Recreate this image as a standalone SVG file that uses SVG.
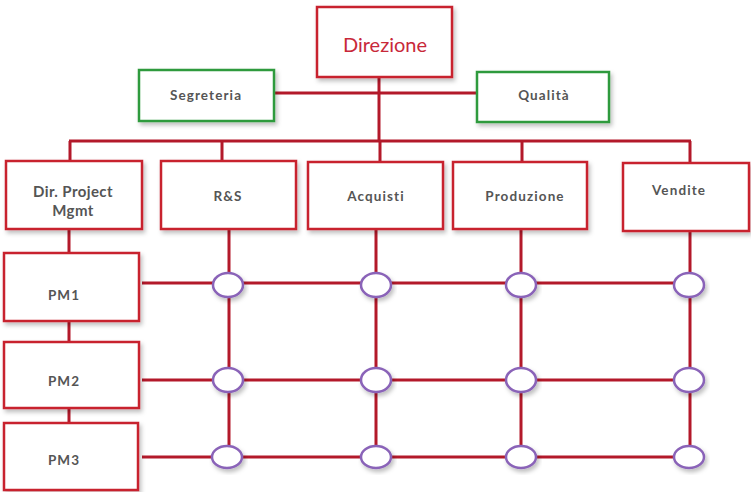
<svg xmlns="http://www.w3.org/2000/svg" width="751" height="492" viewBox="0 0 751 492">
  <defs>
    <filter id="shadow" x="-10%" y="-10%" width="130%" height="140%">
      <feDropShadow dx="2" dy="3" stdDeviation="2" flood-color="#000" flood-opacity="0.25"/>
    </filter>
  </defs>
  <style>
    .box { fill: #fff; stroke: #c8202f; stroke-width: 2.5; filter: url(#shadow); }
    .gbox { fill: #fff; stroke: #2f9a3c; stroke-width: 2.5; filter: url(#shadow); }
    .wire { stroke: #b3192a; stroke-width: 3; fill: none; stroke-linecap: butt; }
    .node { fill: #fff; stroke: #8a63b8; stroke-width: 2.5; filter: url(#shadow); }
    .lbl { font-family: Lato, "Liberation Sans", sans-serif; font-weight: bold; font-size: 13.5px; fill: #555; text-anchor: middle; letter-spacing: 1.1px; }
    .top { font-family: Lato, "Liberation Sans", sans-serif; font-size: 20px; fill: #c8283a; text-anchor: middle; }
  </style>
  <rect width="751" height="492" fill="#fff"/>

  <!-- connectors -->
  <g id="connectors">
    <path class="wire" d="M274 93 H477"/>
    <path class="wire" d="M379 77 V141"/>
    <path class="wire" d="M69 141 H691"/>
    <path class="wire" d="M70 141 V161 M222 141 V161 M380 141 V162 M522 141 V162 M690 141 V163"/>
    <path class="wire" d="M69 229 V253 M69 321 V342 M69 408 V423"/>
    <path class="wire" d="M142 283 H688 M142 380 H688 M142 457 H688"/>
    <path class="wire" d="M229 229 V457 M376 229 V457 M521 229 V457 M690 231 V457"/>
  </g>

  <g id="direzione">
    <rect class="box" x="317" y="7" width="135" height="70"/>
    <text class="top" x="385" y="52">Direzione</text>
  </g>
  <g id="segreteria">
    <rect class="gbox" x="139" y="70" width="135" height="51"/>
    <text class="lbl" x="206" y="100">Segreteria</text>
  </g>
  <g id="qualita">
    <rect class="gbox" x="477" y="72" width="132" height="50"/>
    <text class="lbl" x="544" y="100">Qualità</text>
  </g>

  <g id="dir-project">
    <rect class="box" x="6" y="161" width="136" height="68"/>
    <text class="lbl" x="73" y="197" style="font-size:15px;letter-spacing:0.4px">Dir. Project</text>
    <text class="lbl" x="73" y="216" style="font-size:15px;letter-spacing:0.4px">Mgmt</text>
  </g>
  <g id="rs">
    <rect class="box" x="161" y="161" width="135" height="68"/>
    <text class="lbl" x="228" y="201">R&amp;S</text>
  </g>
  <g id="acquisti">
    <rect class="box" x="308" y="162" width="135" height="67"/>
    <text class="lbl" x="376" y="201">Acquisti</text>
  </g>
  <g id="produzione">
    <rect class="box" x="453" y="162" width="134" height="67"/>
    <text class="lbl" x="525" y="201">Produzione</text>
  </g>
  <g id="vendite">
    <rect class="box" x="623" y="163" width="126" height="68"/>
    <text class="lbl" x="679" y="195">Vendite</text>
  </g>

  <g id="pm1">
    <rect class="box" x="4" y="253" width="135" height="68"/>
    <text class="lbl" x="64" y="300">PM1</text>
  </g>
  <g id="pm2">
    <rect class="box" x="4" y="342" width="135" height="66"/>
    <text class="lbl" x="64" y="386">PM2</text>
  </g>
  <g id="pm3">
    <rect class="box" x="4" y="423" width="134" height="67"/>
    <text class="lbl" x="64" y="465">PM3</text>
  </g>

  <!-- matrix junctions -->
  <g id="junctions">
    <ellipse class="node" cx="228" cy="285" rx="15" ry="12"/>
    <ellipse class="node" cx="376" cy="285" rx="15" ry="12"/>
    <ellipse class="node" cx="521" cy="285" rx="15" ry="12"/>
    <ellipse class="node" cx="689" cy="285" rx="15" ry="12"/>
    <ellipse class="node" cx="228" cy="380" rx="15" ry="12"/>
    <ellipse class="node" cx="376" cy="380" rx="15" ry="12"/>
    <ellipse class="node" cx="521" cy="380" rx="15" ry="12"/>
    <ellipse class="node" cx="689" cy="380" rx="15" ry="12"/>
    <ellipse class="node" cx="227" cy="457" rx="15" ry="11"/>
    <ellipse class="node" cx="376" cy="457" rx="15" ry="11"/>
    <ellipse class="node" cx="521" cy="457" rx="15" ry="11"/>
    <ellipse class="node" cx="689" cy="457" rx="15" ry="11"/>
  </g>
</svg>
